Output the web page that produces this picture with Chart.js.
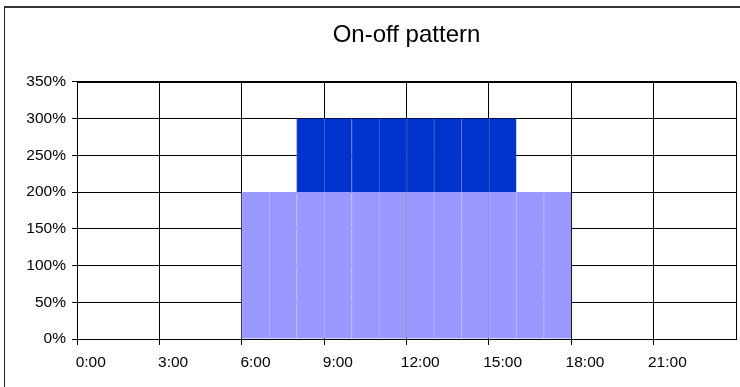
<!DOCTYPE html>
<html>
<head>
<meta charset="utf-8">
<script src="https://cdn.jsdelivr.net/npm/chart.js@4"></script>
<style>
  body { margin: 0; background: #fff; }
  #wrap { position: relative; width: 740px; height: 387px; overflow: hidden; }
  #frame { position: absolute; left: 4px; top: 6px; width: 760px; height: 400px;
           border-left: 1px solid #222; border-top: 2px solid #333; }
  canvas { position: absolute; left: 0; top: 0; }
</style>
</head>
<body>
<div id="wrap">
  <div id="frame"></div>
  <canvas id="chart" width="740" height="387"></canvas>
</div>
<script>
// hourly categories
var hours = ['0:00','1:00','2:00','3:00','4:00','5:00','6:00','7:00','8:00','9:00','10:00','11:00',
             '12:00','13:00','14:00','15:00','16:00','17:00','18:00','19:00','20:00','21:00','22:00','23:00'];
// base load (%)
var baseLoad = [0,0,0,0,0,0,200,200,200,200,200,200,200,200,200,200,200,200,0,0,0,0,0,0];
// extra load on top (%)
var peakLoad = [0,0,0,0,0,0,0,0,100,100,100,100,100,100,100,100,0,0,0,0,0,0,0,0];

var fontName = '"Liberation Sans", Arial, sans-serif';

// box around the plot area
var areaBorder = {
    id: 'areaBorder',
    afterDraw: function(chart) {
        var a = chart.chartArea;
        var ctx = chart.ctx;
        ctx.save();
        ctx.strokeStyle = '#000';
        ctx.lineWidth = 1;
        ctx.strokeRect(Math.round(a.left) + 0.5, Math.round(a.top) + 0.5,
                       Math.round(a.right - a.left), Math.round(a.bottom - a.top));
        ctx.restore();
    }
};

var ctx = document.getElementById('chart').getContext('2d');
new Chart(ctx, {
    type: 'bar',
    data: {
        labels: hours,
        datasets: [{
            label: 'base',
            data: baseLoad,
            backgroundColor: '#9999FF',
            borderColor: '#B4B4FF',
            borderWidth: { left: 1, right: 0, top: 0, bottom: 0 },
            borderSkipped: false,
            categoryPercentage: 1,
            barPercentage: 1
        }, {
            label: 'peak',
            data: peakLoad,
            backgroundColor: '#0033CC',
            borderColor: '#4466DD',
            borderWidth: { left: 1, right: 0, top: 0, bottom: 0 },
            borderSkipped: false,
            categoryPercentage: 1,
            barPercentage: 1
        }]
    },
    options: {
        responsive: false,
        animation: false,
        layout: { padding: { left: 0, right: 4, top: 0, bottom: 0 } },
        plugins: {
            legend: { display: false },
            tooltip: { enabled: false },
            title: {
                display: true,
                fullSize: false,
                text: 'On-off pattern',
                color: '#000',
                font: { family: fontName, size: 24, weight: 'normal' },
                padding: { top: 21, bottom: 32 }
            }
        },
        scales: {
            x: {
                stacked: true,
                offset: true,
                z: 1,
                grid: {
                    offset: true,
                    color: function(c) { return c.index % 3 === 0 ? '#000' : 'rgba(0,0,0,0)'; },
                    tickColor: function(c) { return c.index % 3 === 0 ? '#000' : 'rgba(0,0,0,0)'; },
                    tickLength: 6
                },
                border: { display: true, color: '#000' },
                ticks: {
                    autoSkip: false,
                    maxRotation: 0,
                    color: '#000',
                    padding: 8,
                    font: { family: fontName, size: 15.5 },
                    callback: function(v, i) { return i % 3 === 0 ? hours[i] : ''; }
                },
                afterFit: function(s) { s.height = 48; }
            },
            y: {
                stacked: true,
                min: 0,
                max: 350,
                z: 1,
                grid: { color: '#000', tickColor: '#000', tickLength: 5 },
                border: { display: true, color: '#000' },
                ticks: {
                    stepSize: 50,
                    color: '#000',
                    padding: 6,
                    font: { family: fontName, size: 15.5 },
                    callback: function(v) { return v + '%'; }
                },
                afterFit: function(s) { s.width = 77; }
            }
        }
    },
    plugins: [areaBorder]
});
</script>
</body>
</html>
